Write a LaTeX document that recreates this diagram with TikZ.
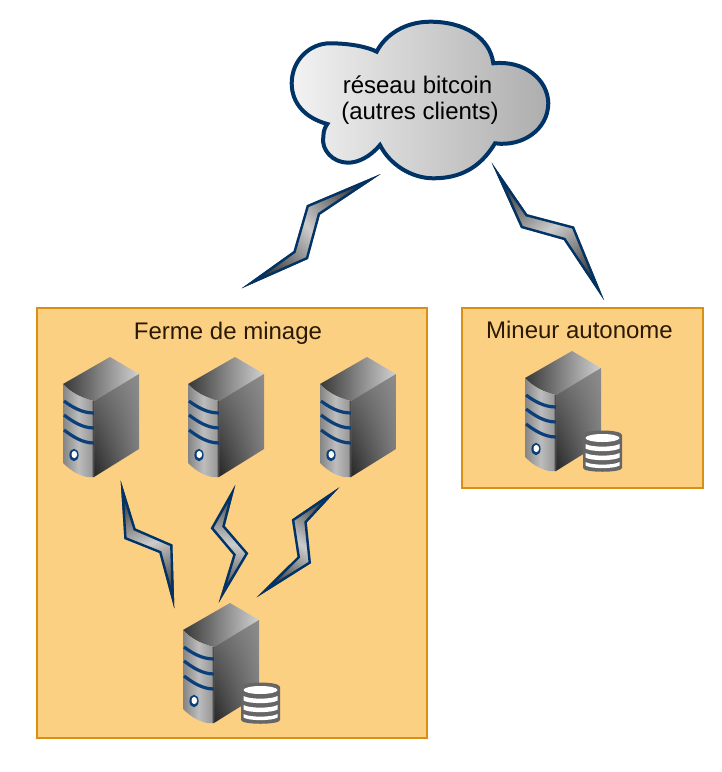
\documentclass[tikz,border=0pt]{standalone}
\usepackage{fontspec}
\usetikzlibrary{shadings}
\setmainfont{Liberation Sans}
\definecolor{boxfill}{HTML}{FCD083}
\definecolor{boxline}{HTML}{D98F12}
\definecolor{navy}{HTML}{003366}
\definecolor{stripeblue}{HTML}{0B3F7A}
\definecolor{txtdark}{HTML}{2A1A05}
\definecolor{dbgray}{gray}{0.4}
\newcommand\zap[2]{\begin{scope}\clip #2; \path[bolt,shading angle=#1] #2; \end{scope}}
\tikzset{
  x=1pt,y=-1pt,
  panel/.style={draw=boxline,fill=boxfill,line width=2pt},
  panellabel/.style={text=txtdark,font=\fontsize{24}{27}\selectfont,inner sep=0pt},
  cloudlabel/.style={text=black,font=\fontsize{24}{26}\selectfont,align=center,inner sep=0pt},
  bolt/.style={draw=navy,line width=4.8pt,line join=miter,miter limit=30,
    left color=black!80,right color=black!80,middle color=black!20},
  stripe/.style={draw=stripeblue,line width=3.2pt},
  server/.pic={
    % top
    \path[left color=black!78,right color=black!18,shading angle=90]
      (0,27) -- (47,0) -- (76,17) -- (31,44) .. controls (18,41) and (7,35) .. cycle;
    % side
    \path[lower left=black!85,upper right=black!45,upper left=black!55,lower right=black!52]
      (31,44) -- (76,17) -- (76,92) -- (31,120) -- cycle;
    % front
    \path[left color=black!48,right color=black!42,middle color=black!26,shading angle=90]
      (0,27) .. controls (7,35) and (18,41) .. (31,44) -- (31,120) -- (24,120)
      .. controls (14,118) and (6,112) .. (0,106) -- cycle;
    \path[fill=black!70] (29.5,43.7) -- (31,44) -- (31,120) -- (29.5,120) -- cycle;
    \draw[stripe] (1,44) .. controls (9,50) and (19,56) .. (31,56);
    \draw[stripe] (1,58) .. controls (9,64) and (19,71) .. (31,71);
    \draw[stripe] (1,73) .. controls (9,79) and (19,86) .. (31,86);
    \fill[stripeblue] (11,98) ellipse [x radius=4.6,y radius=6.2];
    \fill[white] (11.3,97.5) ellipse [x radius=2.8,y radius=3.6];
  },
  database/.pic={
    \fill[dbgray,rounded corners=2pt] (58,86) .. controls (58,78) and (97,78) .. (97,86)
      -- (97,115) .. controls (97,122) and (58,122) .. (58,115) -- cycle;
    \fill[white] (77.5,87) ellipse [x radius=17,y radius=4];
    \fill[white] (60.5,93) .. controls (66,96.5) and (89,96.5) .. (94.5,93) -- (94.5,97.5)
      .. controls (89,101) and (66,101) .. (60.5,97.5) -- cycle;
    \fill[white] (60.5,102) .. controls (66,105.5) and (89,105.5) .. (94.5,102) -- (94.5,106.5)
      .. controls (89,110) and (66,110) .. (60.5,106.5) -- cycle;
    \fill[white] (60.5,111) .. controls (66,114.5) and (89,114.5) .. (94.5,111) -- (94.5,114.5)
      .. controls (89,118) and (66,118) .. (60.5,114.5) -- cycle;
  }
}
\begin{document}
\begin{tikzpicture}
\useasboundingbox (0,0) rectangle (722,772);
% panels
\draw[panel] (37,307.5) rectangle (427,738);
\draw[panel] (462,307.5) rectangle (702.5,488);
\node[panellabel] (ferme) at (228,333) {Ferme de minage};
\node[panellabel] (mineur) at (579.5,330) {Mineur autonome};
% cloud
\path[draw=navy,line width=4pt,left color=black!5,right color=black!32]
  (376.7,51.7) .. controls (385,35) and (405,21.7) .. (430,21.7)
  .. controls (465,21.7) and (490,38) .. (493.3,63.3)
  .. controls (525,60) and (548,80) .. (548.3,103.3)
  .. controls (548,130) and (522,147) .. (495,143.3)
  .. controls (480,168) and (460,178.3) .. (433.3,178.3)
  .. controls (412,178.3) and (390,165) .. (380,145)
  .. controls (370,157) and (358,162.7) .. (348,162.7)
  .. controls (333,162.7) and (321,150) .. (323.3,136.7)
  .. controls (323.5,131) and (325,127) .. (327.3,124)
  .. controls (305,118) and (291.7,103) .. (291.7,83.3)
  .. controls (291.7,60) and (310,43.3) .. (330,43.3)
  .. controls (350,43.3) and (368,47) .. (376.7,51.7) -- cycle;
\node[cloudlabel] (reseau) at (420,100) {réseau bitcoin\hspace*{5pt}\\(autres clients)};
% bolts
\zap{-50}{(380.7,174) -- (306.8,205.2) -- (293.5,251.2) -- (241.7,288.3) -- (308,259) -- (320,214.7) -- cycle}
\zap{39}{(491.7,162.7) -- (527.2,214.2) -- (574,226.5) -- (604,300) -- (563.8,240) -- (521,228) -- cycle}
\zap{23}{(120.7,480.7) -- (135.6,528.5) -- (172.5,544.5) -- (174.3,608.3) -- (159.3,553) -- (124.3,539) -- cycle}
\zap{-8}{(235.3,485) -- (224.8,526) -- (248.3,553.3) -- (218.7,602.7) -- (233.2,555) -- (210.7,528.3) -- cycle}
\zap{-37}{(339.3,487.3) -- (306.8,522.5) -- (311,563.2) -- (256.7,597.3) -- (297.5,556.8) -- (291.8,519.5) -- cycle}
% servers
\path (63,357) pic {server};
\path (188,357) pic {server};
\path (320,357) pic {server};
\path (183,603) pic {server};
\path (183,603) pic {database};
\path (525,351) pic {server};
\path (525,351) pic {database};
\end{tikzpicture}
\end{document}
